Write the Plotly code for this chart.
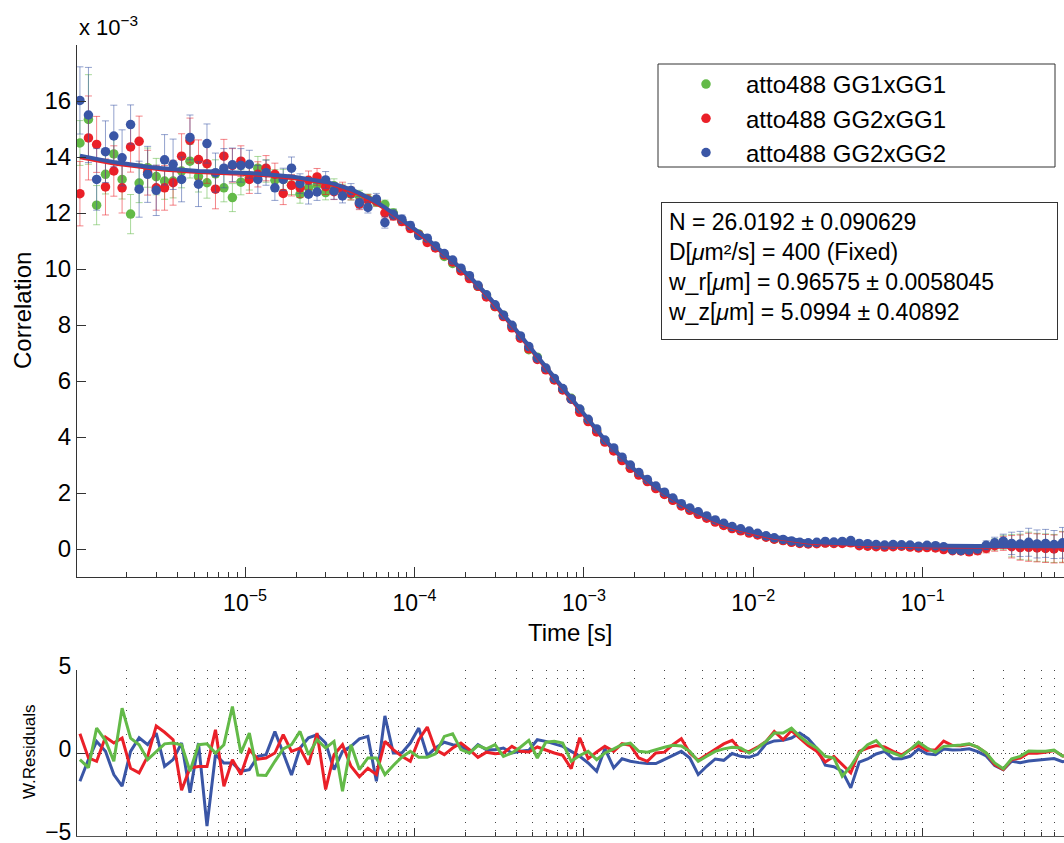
import plotly.graph_objects as go

# ---------------- data ----------------
lag_s = [
    1.06e-6, 1.19e-6, 1.33e-6, 1.50e-6, 1.68e-6, 1.88e-6, 2.11e-6, 2.37e-6, 2.66e-6, 2.99e-6,
    3.35e-6, 3.76e-6, 4.22e-6, 4.73e-6, 5.31e-6, 5.96e-6, 6.69e-6, 7.50e-6, 8.42e-6, 9.45e-6,
    1.06e-5, 1.19e-5, 1.33e-5, 1.50e-5, 1.68e-5, 1.88e-5, 2.11e-5, 2.37e-5, 2.66e-5, 2.99e-5,
    3.35e-5, 3.76e-5, 4.22e-5, 4.73e-5, 5.31e-5, 5.96e-5, 6.69e-5, 7.50e-5, 8.42e-5, 9.45e-5,
    1.06e-4, 1.19e-4, 1.33e-4, 1.50e-4, 1.68e-4, 1.88e-4, 2.11e-4, 2.37e-4, 2.66e-4, 2.99e-4,
    3.35e-4, 3.76e-4, 4.22e-4, 4.73e-4, 5.31e-4, 5.96e-4, 6.69e-4, 7.50e-4, 8.42e-4, 9.45e-4,
    1.06e-3, 1.19e-3, 1.33e-3, 1.50e-3, 1.68e-3, 1.88e-3, 2.11e-3, 2.37e-3, 2.66e-3, 2.99e-3,
    3.35e-3, 3.76e-3, 4.22e-3, 4.73e-3, 5.31e-3, 5.96e-3, 6.69e-3, 7.50e-3, 8.42e-3, 9.45e-3,
    1.06e-2, 1.19e-2, 1.33e-2, 1.50e-2, 1.68e-2, 1.88e-2, 2.11e-2, 2.37e-2, 2.66e-2, 2.99e-2,
    3.35e-2, 3.76e-2, 4.22e-2, 4.73e-2, 5.31e-2, 5.96e-2, 6.69e-2, 7.50e-2, 8.42e-2, 9.45e-2,
    0.106, 0.119, 0.133, 0.150, 0.168, 0.188, 0.211, 0.237, 0.266, 0.299,
    0.335, 0.376, 0.422, 0.473, 0.531, 0.596, 0.669, 0.750,
]

# correlation values in units of 1e-3
green_corr = [
    14.5, 15.34, 12.28, 13.38, 14.11, 13.2, 11.96, 13.07, 13.62, 13.3,
    13.14, 13.14, 13.5, 13.85, 13.3, 13.08, 13.4, 12.9, 12.55, 13.1,
    13.27, 13.6, 13.5, 13.17, 13.2, 13.0, 12.67, 12.9, 13.0, 12.73,
    12.97, 12.8, 12.67, 12.61, 12.5, 12.4, 12.3, 12.0, 11.72, 11.5,
    11.25, 11.0, 10.8, 10.45, 10.2, 9.98, 9.72, 9.38, 9.05, 8.66,
    8.35, 7.96, 7.57, 7.12, 6.85, 6.42, 6.05, 5.7, 5.38, 4.98,
    4.58, 4.22, 3.87, 3.53, 3.2, 2.9, 2.66, 2.43, 2.18, 1.97,
    1.76, 1.57, 1.41, 1.28, 1.14, 0.99, 0.86, 0.75, 0.67, 0.6,
    0.52, 0.44, 0.36, 0.31, 0.25, 0.22, 0.2, 0.21, 0.22, 0.21,
    0.24, 0.26, 0.15, 0.12, 0.1, 0.1, 0.11, 0.12, 0.09, 0.06,
    0.08, 0.08, 0.02, -0.03, -0.04, -0.06, -0.03, 0.05, 0.16, 0.24,
    0.12, 0.08, 0.1, 0.06, 0.04, 0.02, 0.08, 0.06,
]
red_corr = [
    12.69, 14.68, 14.45, 12.93, 13.5, 12.9, 14.36, 14.56, 13.44, 12.9,
    12.9, 13.08, 14.03, 14.59, 13.91, 13.76, 12.85, 14.03, 13.7, 13.85,
    13.2, 13.38, 13.6, 13.38, 12.7, 12.99, 12.9, 13.17, 13.29, 12.94,
    12.76, 12.85, 12.7, 12.32, 12.46, 12.43, 12.0, 11.9, 11.7, 11.45,
    11.22, 10.95, 10.75, 10.5, 10.25, 9.93, 9.66, 9.38, 9.0, 8.66,
    8.3, 7.9, 7.53, 7.15, 6.77, 6.4, 6.04, 5.68, 5.35, 4.88,
    4.55, 4.18, 3.82, 3.5, 3.16, 2.88, 2.64, 2.41, 2.16, 1.95,
    1.74, 1.54, 1.38, 1.24, 1.1, 0.96, 0.84, 0.73, 0.65, 0.57,
    0.5, 0.42, 0.35, 0.3, 0.24, 0.2, 0.18, 0.19, 0.21, 0.2,
    0.2, 0.22, 0.12, 0.1, 0.08, 0.07, 0.08, 0.1, 0.07, 0.04,
    0.05, 0.04, -0.02, -0.06, -0.07, -0.1, -0.06, 0.02, 0.12, 0.2,
    0.08, 0.05, 0.06, 0.04, 0.02, 0.0, 0.06, 0.04,
]
blue_corr = [
    16.02, 15.5, 13.2, 14.19, 14.75, 13.97, 15.16, 12.85, 13.38, 12.81,
    13.9, 13.74, 13.2, 14.7, 13.03, 14.48, 13.44, 13.6, 13.72, 13.7,
    13.74, 13.2, 13.44, 12.9, 13.2, 13.6, 13.05, 12.67, 12.75, 13.18,
    12.79, 12.61, 12.8, 12.37, 12.2, 12.5, 11.66, 11.95, 11.78, 11.55,
    11.2, 11.1, 10.82, 10.55, 10.32, 10.03, 9.76, 9.42, 9.08, 8.72,
    8.35, 7.99, 7.61, 7.23, 6.82, 6.46, 6.09, 5.73, 5.36, 5.0,
    4.63, 4.29, 3.89, 3.61, 3.28, 3.0, 2.73, 2.48, 2.25, 2.03,
    1.82, 1.62, 1.46, 1.33, 1.18, 1.04, 0.92, 0.8, 0.72, 0.64,
    0.56, 0.47, 0.4, 0.34, 0.29, 0.24, 0.22, 0.24, 0.27, 0.25,
    0.27, 0.3, 0.2, 0.19, 0.16, 0.14, 0.16, 0.15, 0.14, 0.1,
    0.13, 0.12, 0.08, -0.03, -0.05, -0.04, 0.0, 0.13, 0.22, 0.28,
    0.2, 0.18, 0.24, 0.18, 0.2, 0.16, 0.22, 0.2,
]

green_err = [
    0.8, 1.6, 0.7, 0.7, 0.7, 0.7, 0.7, 0.7, 0.7, 0.65,
    0.65, 0.6, 0.6, 0.6, 0.55, 0.55, 0.5, 0.5, 0.5, 0.45,
    0.45, 0.42, 0.4, 0.38, 0.36, 0.34, 0.32, 0.3, 0.28, 0.26,
    0.25, 0.23, 0.21, 0.2, 0.18, 0.17, 0.16, 0.15, 0.14, 0.12,
    0.12, 0.11, 0.1, 0.1, 0.09, 0.09, 0.08, 0.08, 0.08, 0.07,
    0.07, 0.07, 0.07, 0.06, 0.06, 0.06, 0.06, 0.06, 0.06, 0.06,
    0.05, 0.05, 0.05, 0.05, 0.05, 0.05, 0.05, 0.05, 0.05, 0.05,
    0.05, 0.05, 0.05, 0.05, 0.05, 0.05, 0.05, 0.05, 0.05, 0.05,
    0.05, 0.05, 0.05, 0.05, 0.05, 0.05, 0.05, 0.05, 0.06, 0.06,
    0.06, 0.06, 0.06, 0.07, 0.07, 0.07, 0.08, 0.08, 0.09, 0.09,
    0.08, 0.08, 0.09, 0.1, 0.11, 0.12, 0.14, 0.16, 0.2, 0.25,
    0.4, 0.45, 0.5, 0.5, 0.5, 0.5, 0.55, 0.55,
]
red_err = [
    1.15, 1.5, 1.0, 1.0, 0.9, 0.9, 0.9, 0.9, 0.8, 0.8,
    0.8, 0.8, 0.8, 0.8, 0.7, 0.7, 0.7, 0.6, 0.6, 0.55,
    0.5, 0.45, 0.45, 0.4, 0.4, 0.38, 0.35, 0.33, 0.3, 0.28,
    0.28, 0.25, 0.23, 0.2, 0.2, 0.18, 0.18, 0.16, 0.15, 0.13,
    0.13, 0.12, 0.11, 0.1, 0.1, 0.09, 0.09, 0.08, 0.08, 0.08,
    0.07, 0.07, 0.07, 0.07, 0.06, 0.06, 0.06, 0.06, 0.06, 0.06,
    0.05, 0.05, 0.05, 0.05, 0.05, 0.05, 0.05, 0.05, 0.05, 0.05,
    0.05, 0.05, 0.05, 0.05, 0.05, 0.05, 0.05, 0.05, 0.05, 0.05,
    0.05, 0.05, 0.05, 0.05, 0.05, 0.05, 0.05, 0.05, 0.06, 0.06,
    0.06, 0.06, 0.06, 0.07, 0.07, 0.07, 0.08, 0.08, 0.09, 0.09,
    0.08, 0.08, 0.09, 0.1, 0.11, 0.12, 0.14, 0.16, 0.2, 0.25,
    0.4, 0.45, 0.5, 0.5, 0.5, 0.5, 0.55, 0.55,
]
blue_err = [
    1.2, 1.7, 1.1, 1.1, 1.1, 1.0, 0.7, 1.0, 1.0, 0.9,
    0.9, 0.9, 0.8, 0.8, 0.8, 0.7, 0.7, 0.7, 0.6, 0.6,
    0.5, 0.5, 0.45, 0.45, 0.4, 0.4, 0.35, 0.35, 0.3, 0.3,
    0.3, 0.25, 0.25, 0.22, 0.2, 0.2, 0.2, 0.17, 0.15, 0.14,
    0.13, 0.12, 0.11, 0.1, 0.1, 0.09, 0.09, 0.08, 0.08, 0.08,
    0.07, 0.07, 0.07, 0.07, 0.06, 0.06, 0.06, 0.06, 0.06, 0.06,
    0.05, 0.05, 0.05, 0.05, 0.05, 0.05, 0.05, 0.05, 0.05, 0.05,
    0.05, 0.05, 0.05, 0.05, 0.05, 0.05, 0.05, 0.05, 0.05, 0.05,
    0.05, 0.05, 0.05, 0.05, 0.05, 0.05, 0.05, 0.05, 0.06, 0.06,
    0.06, 0.06, 0.06, 0.07, 0.07, 0.07, 0.08, 0.08, 0.09, 0.09,
    0.08, 0.08, 0.09, 0.1, 0.11, 0.12, 0.14, 0.16, 0.2, 0.25,
    0.4, 0.45, 0.5, 0.5, 0.5, 0.5, 0.55, 0.55,
]

fit_blue = [
    14.05, 13.98, 13.92, 13.87, 13.82, 13.77, 13.73, 13.69, 13.65, 13.62,
    13.59, 13.56, 13.54, 13.52, 13.50, 13.49, 13.47, 13.46, 13.45, 13.44,
    13.43, 13.41, 13.39, 13.36, 13.33, 13.30, 13.26, 13.22, 13.17, 13.11,
    13.04, 12.95, 12.84, 12.71, 12.56, 12.39, 12.20, 11.99, 11.77, 11.55,
    11.32, 11.08, 10.83, 10.57, 10.31, 10.03, 9.74, 9.43, 9.10, 8.75,
    8.38, 7.99, 7.62, 7.24, 6.86, 6.49, 6.12, 5.75, 5.37, 4.99,
    4.61, 4.25, 3.90, 3.57, 3.26, 2.97, 2.70, 2.45, 2.22, 2.01,
    1.81, 1.62, 1.45, 1.29, 1.15, 1.02, 0.90, 0.80, 0.71, 0.63,
    0.56, 0.49, 0.43, 0.38, 0.33, 0.29, 0.26, 0.24, 0.22, 0.21,
    0.20, 0.19, 0.18, 0.17, 0.16, 0.15, 0.14, 0.14, 0.13, 0.13,
    0.12, 0.12, 0.12, 0.11, 0.11, 0.11, 0.11, 0.11, 0.10, 0.10,
    0.10, 0.10, 0.10, 0.10, 0.10, 0.10, 0.10, 0.10,
]
fit_red = [
    13.97, 13.91, 13.85, 13.80, 13.75, 13.71, 13.67, 13.63, 13.59, 13.56,
    13.53, 13.51, 13.48, 13.46, 13.45, 13.43, 13.42, 13.41, 13.39, 13.38,
    13.37, 13.35, 13.33, 13.30, 13.27, 13.24, 13.20, 13.16, 13.11, 13.05,
    12.98, 12.89, 12.78, 12.65, 12.50, 12.33, 12.14, 11.93, 11.71, 11.49,
    11.26, 11.02, 10.77, 10.51, 10.25, 9.97, 9.68, 9.37, 9.04, 8.69,
    8.32, 7.94, 7.57, 7.19, 6.81, 6.44, 6.07, 5.70, 5.32, 4.94,
    4.56, 4.20, 3.85, 3.52, 3.21, 2.92, 2.65, 2.40, 2.17, 1.96,
    1.76, 1.57, 1.40, 1.24, 1.10, 0.97, 0.85, 0.75, 0.66, 0.58,
    0.51, 0.44, 0.38, 0.33, 0.28, 0.24, 0.21, 0.19, 0.17, 0.16,
    0.15, 0.14, 0.13, 0.12, 0.11, 0.10, 0.09, 0.09, 0.08, 0.08,
    0.07, 0.07, 0.07, 0.07, 0.07, 0.06, 0.06, 0.06, 0.06, 0.06,
    0.06, 0.06, 0.06, 0.06, 0.06, 0.06, 0.06, 0.06,
]

# weighted residuals
blue_res = [
    -1.7, -0.4, 0.7, 0.1, -1.3, -2.0, 0.1, 0.92, 0.5, 1.2,
    -0.8, -0.4, 0.6, -2.4, 0.6, -4.4, -0.1, -0.6, -0.6, -1.1,
    -1.0, -0.2, -0.1, 1.29, 0.0, -1.33, 0.3, 0.92, 1.1, 0.6,
    -1.0, 0.1, 0.4, 0.85, 1.0, -1.7, 2.24, 0.0, 0.0, 0.6,
    1.5, -0.15, 0.3, 0.65, 0.5, 0.45, 0.0, 0.5, 0.2, 0.2,
    0.3, 0.0, 0.1, 0.16, 0.8, 0.7, 0.55, 0.4, 0.1, -0.2,
    -0.6, -1.1, 0.26, -0.9, -0.35, -0.5, -0.58, -0.64, -0.64, -0.4,
    -0.15, 0.1, -0.3, -1.3, -0.8, -0.36, -0.44, -0.03, -0.2, -0.26,
    -0.08, 0.55, 0.73, 0.76, 0.9, 1.2, 0.86, 0.28, -0.73, -0.83,
    -1.1, -2.1, -0.55, -0.36, -0.06, 0.1, -0.34, -0.34, -0.2, 0.23,
    -0.05, -0.1, 0.24, 0.18, 0.2, 0.25, 0.08, -0.18, -0.75, -1.0,
    -0.5, -0.58, -0.48, -0.44, -0.37, -0.33, -0.52, -0.5,
]
red_res = [
    1.16, -0.3, -0.5, 0.96, 0.6, 0.9, -0.92, -1.2, -0.2, 1.63,
    1.25, 0.8, -2.24, -0.9, -0.82, -0.82, 1.4, -2.0, -0.4, -1.3,
    0.2, -0.37, -0.3, 0.0, 1.1, 0.1, 0.3, -0.7, 1.2, -2.2,
    -0.1, 0.5, -0.8, -1.43, -0.92, -1.3, 0.7, 0.2, -0.2, -0.5,
    0.8, 1.56, 0.2, -0.1, 0.3, 0.6, 0.2, -0.26, 0.05, -0.05,
    0.0, 0.4, 0.1, 0.06, 0.36, 0.16, 0.0, -0.14, -0.94, 0.92,
    -0.34, 0.06, 0.4, 0.1, 0.56, 0.46, -0.3, -0.5, 0.0, 0.05,
    0.5, 0.86, 0.0, -0.44, -0.1, 0.2, 0.55, 0.76, 0.16, 0.08,
    0.35, 0.7, 1.3, 0.8, 1.35, 0.9, 0.45, 0.1, -0.54, -0.2,
    -0.7, -1.2, 0.1, 0.3, 0.45, 0.36, 0.1, -0.12, 0.2, 0.45,
    0.15, 0.2, 0.72, 0.45, 0.43, 0.53, 0.35, 0.0, -0.7, -1.0,
    -0.4, -0.3, 0.0, -0.02, 0.05, 0.15, -0.18, -0.2,
]
green_res = [
    -0.4, -0.88, 1.5, 0.75, -0.5, 2.7, 0.9, 0.5, -0.4, 0.1,
    0.55, 0.6, 0.5, -1.1, 0.5, 0.55, 0.0, 0.5, 2.8, 0.0,
    1.2, -1.33, -1.35, -0.5, 0.25, 0.5, 1.3, -0.1, 0.8, 0.3,
    0.7, -2.3, 0.5, -1.0, -0.3, -0.3, -1.3, -0.75, -0.25, 0.1,
    -0.26, -0.25, -0.05, 1.0, 1.15, 0.2, 0.0, 0.45, 0.25, 0.5,
    -0.2, 0.0, 0.35, 0.76, -0.3, 0.65, 0.7, 0.6, -0.5, -0.15,
    0.1, -0.4, 0.0, 0.25, 0.5, 0.6, 0.1, 0.05, 0.22, 0.35,
    0.46, 0.42, 0.1, -0.5, -0.2, 0.1, 0.25, 0.35, 0.3, 0.0,
    0.3, 0.7, 1.2, 1.2, 1.5, 1.0, 0.6, 0.3, -0.2, -0.3,
    -1.4, -0.8, 0.0, 0.5, 0.75, 0.2, 0.0, -0.2, 0.2, 0.65,
    0.3, 0.05, 0.4, 0.43, 0.48, 0.55, 0.35, 0.0, -0.6, -0.95,
    -0.35, -0.2, 0.12, 0.1, 0.1, 0.17, -0.18, -0.2,
]

series_names = ["atto488 GG1xGG1", "atto488 GG2xGG1", "atto488 GG2xGG2"]
x_tick_vals = [1e-5, 1e-4, 1e-3, 1e-2, 1e-1]
x_tick_text = ["10<sup>\u22125</sup>", "10<sup>\u22124</sup>", "10<sup>\u22123</sup>",
               "10<sup>\u22122</sup>", "10<sup>\u22121</sup>"]
y_tick_vals = [0, 2, 4, 6, 8, 10, 12, 14, 16]
res_tick_vals = [-5, 0, 5]
res_tick_text = ["\u22125", "0", "5"]
fit_text = ("N = 26.0192 \u00b1 0.090629<br>"
            "D[<i>\u03bc</i>m\u00b2/s] = 400 (Fixed)<br>"
            "w_r[<i>\u03bc</i>m] = 0.96575 \u00b1 0.0058045<br>"
            "w_z[<i>\u03bc</i>m] = 5.0994 \u00b1 0.40892")

for arr in [green_corr, red_corr, blue_corr, green_err, red_err, blue_err,
            fit_blue, fit_red, blue_res, red_res, green_res]:
    assert len(arr) == len(lag_s), len(arr)

# ---------------- styling ----------------
FONT = "Liberation Sans, Arial, Helvetica, sans-serif"
GREEN = "rgb(99,186,72)"
RED = "rgb(234,32,40)"
BLUE = "rgb(58,86,166)"
GREEN_E = "rgba(99,186,72,0.55)"
RED_E = "rgba(234,32,40,0.55)"
BLUE_E = "rgba(58,86,166,0.55)"

W, H = 1064, 843
ML, MR, MT, MB = 77, 0, 45, 7
PW, PH = W - ML - MR, H - MT - MB


def px_x(p):
    return (p - ML) / PW


def px_y(p):
    return (H - MB - p) / PH


fig = go.Figure()

for name, yv, ev, col, ecol in zip(series_names,
                                   [green_corr, red_corr, blue_corr],
                                   [green_err, red_err, blue_err],
                                   [GREEN, RED, BLUE],
                                   [GREEN_E, RED_E, BLUE_E]):
    fig.add_trace(go.Scatter(
        x=lag_s, y=yv, mode="markers", name="\u00a0\u00a0\u00a0" + name,
        marker=dict(size=9.5, color=col, line=dict(width=0)),
        error_y=dict(type="data", array=ev, color=ecol, thickness=1, width=3.5),
        xaxis="x", yaxis="y"))

fig.add_trace(go.Scatter(x=lag_s, y=fit_red, mode="lines", line=dict(color=RED, width=3),
                         showlegend=False, xaxis="x", yaxis="y", hoverinfo="skip"))
fig.add_trace(go.Scatter(x=lag_s, y=fit_blue, mode="lines", line=dict(color=BLUE, width=4),
                         showlegend=False, xaxis="x", yaxis="y", hoverinfo="skip"))

for res, col in [(blue_res, BLUE), (red_res, RED), (green_res, GREEN)]:
    fig.add_trace(go.Scatter(x=lag_s, y=res, mode="lines", line=dict(color=col, width=3),
                             showlegend=False, xaxis="x2", yaxis="y2"))

AX = "#333333"
XRANGE = [-5.992, -0.166]
DOT = "1px,7px"

fig.update_layout(
    width=W, height=H,
    margin=dict(l=ML, r=MR, t=MT, b=MB, pad=0, autoexpand=False),
    paper_bgcolor="white", plot_bgcolor="white",
    font=dict(family=FONT, size=23, color="black"),
    showlegend=True,
    legend=dict(x=px_x(686), y=px_y(62), xanchor="left", yanchor="top",
                bgcolor="rgba(0,0,0,0)", borderwidth=0, font=dict(size=24),
                tracegroupgap=0),
    xaxis=dict(type="log", range=XRANGE, domain=[0, 1], anchor="y", automargin=False,
               tickmode="array", tickvals=x_tick_vals, ticktext=x_tick_text,
               ticks="inside", ticklen=10, tickwidth=1, tickcolor=AX,
               showline=True, linecolor=AX, linewidth=1,
               showgrid=False, zeroline=False, ticklabelstandoff=5,
               minor=dict(ticks="inside", ticklen=5, tickwidth=1, tickcolor=AX,
                          dtick="D1", showgrid=False),
               tickfont=dict(size=23)),
    yaxis=dict(domain=[px_y(577), 1], range=[-1, 18], anchor="x", automargin=False,
               tickmode="array", tickvals=y_tick_vals,
               ticks="inside", ticklen=9, tickwidth=1, tickcolor=AX,
               showline=True, linecolor=AX, linewidth=1,
               showgrid=False, zeroline=False, tickfont=dict(size=24)),
    xaxis2=dict(type="log", range=XRANGE, domain=[0, 1], anchor="y2", automargin=False,
                tickmode="array", tickvals=x_tick_vals, showticklabels=False,
                ticks="inside", ticklen=8, tickwidth=1, tickcolor=AX,
                showline=True, linecolor="#555555", linewidth=1,
                showgrid=True, gridcolor="#444444", gridwidth=1, griddash=DOT,
                zeroline=False,
                minor=dict(ticks="inside", ticklen=4, tickwidth=1, tickcolor=AX,
                           dtick="D1", showgrid=True, gridcolor="#444444",
                           gridwidth=1, griddash=DOT)),
    yaxis2=dict(domain=[0, px_y(670)], range=[-5, 5], anchor="x2", automargin=False,
                tickmode="array", tickvals=res_tick_vals, ticktext=res_tick_text,
                ticks="inside", ticklen=8, tickwidth=1, tickcolor=AX,
                showline=True, linecolor=AX, linewidth=1, ticklabeloverflow="allow",
                ticklabelshift=-4,
                showgrid=True, gridcolor="#444444", gridwidth=1, griddash="1px,3px",
                zeroline=False, tickfont=dict(size=23)),
    shapes=[dict(type="rect", xref="paper", yref="paper",
                 x0=px_x(658), x1=px_x(1055), y0=px_y(167), y1=px_y(64),
                 line=dict(color=AX, width=1), fillcolor="rgba(0,0,0,0)", layer="above")],
    annotations=[
        dict(text="Correlation", xref="paper", yref="paper", x=px_x(22), y=px_y(311),
             textangle=-90, showarrow=False, xanchor="center", yanchor="middle",
             font=dict(size=24)),
        dict(text="W.Residuals", xref="paper", yref="paper", x=px_x(29), y=px_y(752),
             textangle=-90, showarrow=False, xanchor="center", yanchor="middle",
             font=dict(size=17)),
        dict(text="Time [s]", xref="paper", yref="paper", x=px_x(570), y=px_y(632),
             showarrow=False, xanchor="center", yanchor="middle", font=dict(size=24)),
        dict(text="x 10<sup>\u22123</sup>", xref="paper", yref="paper", x=px_x(77), y=px_y(42),
             showarrow=False, xanchor="left", yanchor="bottom", font=dict(size=22)),
        dict(text=fit_text, xref="paper", yref="paper", x=px_x(661), y=px_y(202),
             showarrow=False, xanchor="left", yanchor="top", align="left", valign="top",
             width=383, height=124, borderpad=6, bordercolor=AX, borderwidth=1,
             bgcolor="white", font=dict(size=23)),
    ],
)

fig.write_html("out.html")
